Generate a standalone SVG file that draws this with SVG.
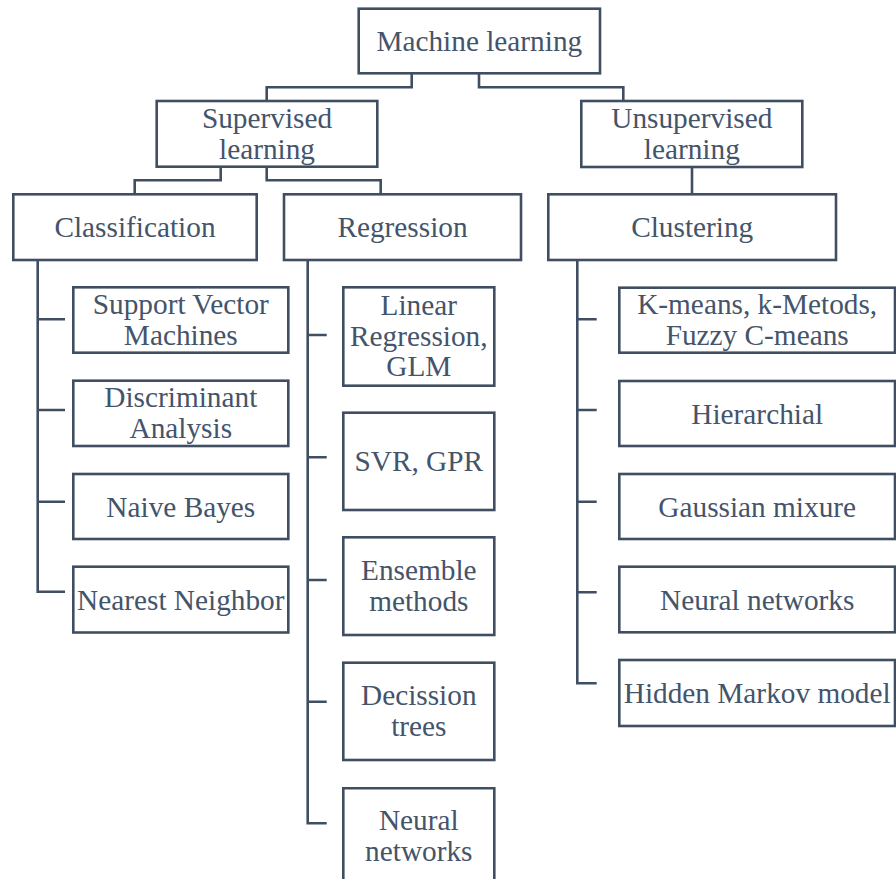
<svg xmlns="http://www.w3.org/2000/svg" width="896" height="883" viewBox="0 0 896 883">
<style>
.box{fill:#ffffff;stroke:#404e62;stroke-width:2.6}
.conn{fill:none;stroke:#404e62;stroke-width:2.6}
text{font-size:29.3px;fill:#44546a;text-anchor:middle}
</style>
<rect width="896" height="883" fill="#ffffff"/>
<g id="connectors">
<path class="conn" d="M411.7,73.3 V87.3 H266.7 V101"/>
<path class="conn" d="M479,73.3 V87.3 H623.3 V101"/>
<path class="conn" d="M220.7,166.7 V180.3 H134.7 V194.3"/>
<path class="conn" d="M266.7,166.7 V180.3 H380.7 V194.3"/>
<path class="conn" d="M692,167 V194.3"/>
<path class="conn" d="M37.7,260 V591.7 H65 M37.7,319.3 H65 M37.7,410 H65 M37.7,501.7 H65"/>
<path class="conn" d="M307.7,260 V823.3 H326.7 M307.7,335 H326.7 M307.7,457.3 H326.7 M307.7,580 H326.7 M307.7,701.7 H326.7"/>
<path class="conn" d="M577.3,260 V683.3 H596.7 M577.3,319.3 H596.7 M577.3,410 H596.7 M577.3,501.7 H596.7 M577.3,592.3 H596.7"/>
</g>
<g id="nodes" font-family="Liberation Serif, Times New Roman, serif">
<g id="machine-learning">
<rect class="box" x="358.7" y="8.7" width="241.3" height="64.6"/>
<text x="479.3" y="51">Machine learning</text>
</g>
<g id="supervised">
<rect class="box" x="156.7" y="101" width="220.6" height="65.7"/>
<text x="267" y="128">Supervised</text>
<text x="267" y="158.5">learning</text>
</g>
<g id="unsupervised">
<rect class="box" x="581.3" y="101" width="221" height="66"/>
<text x="691.8" y="128">Unsupervised</text>
<text x="691.8" y="158.5">learning</text>
</g>
<g id="classification">
<rect class="box" x="13.3" y="194.3" width="243.4" height="65.7"/>
<text x="135" y="237">Classification</text>
</g>
<g id="regression">
<rect class="box" x="284" y="194.3" width="237" height="65.7"/>
<text x="402.5" y="237">Regression</text>
</g>
<g id="clustering">
<rect class="box" x="548.3" y="194.3" width="287.7" height="65.7"/>
<text x="692.2" y="237">Clustering</text>
</g>
<g id="svm">
<rect class="box" x="73.3" y="287.3" width="215" height="65.4"/>
<text x="180.8" y="314">Support Vector</text>
<text x="180.8" y="344.5">Machines</text>
</g>
<g id="discriminant">
<rect class="box" x="73.3" y="380.7" width="215" height="65.3"/>
<text x="180.8" y="407.3">Discriminant</text>
<text x="180.8" y="437.8">Analysis</text>
</g>
<g id="naive-bayes">
<rect class="box" x="73.3" y="474" width="215" height="65"/>
<text x="180.8" y="516.5">Naive Bayes</text>
</g>
<g id="nearest-neighbor">
<rect class="box" x="73.3" y="566.7" width="215" height="65.8"/>
<text x="180.8" y="609.6">Nearest Neighbor</text>
</g>
<g id="linear-regression">
<rect class="box" x="343.3" y="287.3" width="151" height="98.4"/>
<text x="418.8" y="315">Linear</text>
<text x="418.8" y="345.5">Regression,</text>
<text x="418.8" y="376">GLM</text>
</g>
<g id="svr-gpr">
<rect class="box" x="343.3" y="412.7" width="151" height="97.3"/>
<text x="418.8" y="471.3">SVR, GPR</text>
</g>
<g id="ensemble">
<rect class="box" x="343.3" y="537.3" width="151" height="97.7"/>
<text x="418.8" y="580.2">Ensemble</text>
<text x="418.8" y="610.7">methods</text>
</g>
<g id="decision-trees">
<rect class="box" x="343.3" y="662.7" width="151" height="97.3"/>
<text x="418.8" y="705.4">Decission</text>
<text x="418.8" y="735.9">trees</text>
</g>
<g id="neural-networks-reg">
<path class="box" d="M343.3,879 V788.3 H494.3 V879"/>
<text x="418.8" y="830">Neural</text>
<text x="418.8" y="860.5">networks</text>
</g>
<g id="kmeans">
<rect class="box" x="619.3" y="287.7" width="275.7" height="65"/>
<text x="757.2" y="314">K-means, k-Metods,</text>
<text x="757.2" y="344.5">Fuzzy C-means</text>
</g>
<g id="hierarchial">
<rect class="box" x="619.3" y="381" width="275.7" height="65"/>
<text x="757.2" y="423.5">Hierarchial</text>
</g>
<g id="gaussian">
<rect class="box" x="619.3" y="474" width="275.7" height="65"/>
<text x="757.2" y="516.5">Gaussian mixure</text>
</g>
<g id="neural-networks-clu">
<rect class="box" x="619.3" y="566.7" width="275.7" height="65.6"/>
<text x="757.2" y="609.5">Neural networks</text>
</g>
<g id="hidden-markov">
<rect class="box" x="619.3" y="660" width="275.7" height="66"/>
<text x="757.2" y="703">Hidden Markov model</text>
</g>
</g>
</svg>
